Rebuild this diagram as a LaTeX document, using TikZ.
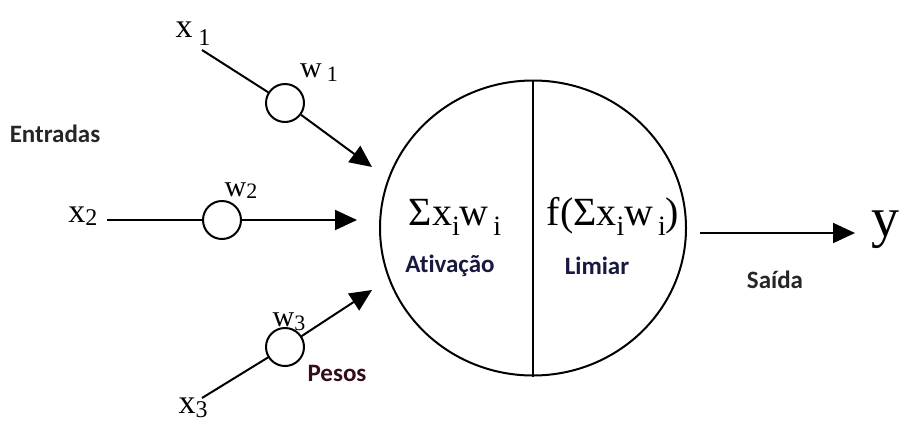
\documentclass[tikz,border=0pt]{standalone}
\usepackage{fontspec}
\setmainfont{Liberation Serif}
\newfontfamily\labelfont[Ligatures=NoCommon]{Carlito}
\usetikzlibrary{arrows.meta,shapes.geometric}
\newcommand{\lowsub}[4][3pt]{#3\raisebox{-#1}{\fontsize{#2}{#2}\selectfont #4}}

\begin{document}
\begin{tikzpicture}[x=0.5pt, y=-0.5pt,
    weight/.style={draw, circle, line width=1pt, minimum size=19pt, inner sep=0pt, fill=white},
    wire/.style={line width=1pt},
    feed/.style={line width=1pt, -{Triangle[length=11pt, width=10pt]}},
    caption/.style={font=\labelfont\bfseries\fontsize{12.5}{14}\selectfont},
    symb/.style={font=\fontsize{17}{19}\selectfont, inner sep=0pt, anchor=base},
    wlabel/.style={font=\fontsize{15}{17}\selectfont, inner sep=0pt, anchor=base},
    formula/.style={font=\fontsize{20}{22}\selectfont, inner sep=0pt, anchor=base}]
    \useasboundingbox (0,0) rectangle (900,424);

    % Define the points of the connectors
    \coordinate (S1) at (202,50);
    \coordinate (S2) at (107,220);
    \coordinate (S3) at (202,398);
    \coordinate (T1) at (372,167);
    \coordinate (T2) at (357,220);
    \coordinate (T3) at (372,290);
    \coordinate (O1) at (700,233);
    \coordinate (O2) at (855,233);

    % Draw the neuron
    \node[draw, ellipse, line width=1pt, minimum width=153pt, minimum height=147.5pt] (neuron) at (533,228) {};
    \draw[wire] (neuron.north) -- (neuron.south);

    % Draw the weights
    \node[weight] (W1) at (285,103) {};
    \node[weight] (W2) at (222,220) {};
    \node[weight] (W3) at (285,347) {};

    % Draw the inputs
    \draw[wire] (S1) -- (W1);
    \draw[feed] (W1) -- (T1);
    \draw[wire] (S2) -- (W2);
    \draw[feed] (W2) -- (T2);
    \draw[wire] (S3) -- (W3);
    \draw[feed] (W3) -- (T3);

    % Draw the output
    \draw[feed] (O1) -- (O2);

    % Place the symbols
    \node[symb] (X1) at (193,37) {\lowsub[4pt]{12}{x\,}{1}};
    \node[symb] (X2) at (83,222) {\lowsub[1.5pt]{12}{x}{2}};
    \node[symb] (X3) at (193,413) {\lowsub[2pt]{12}{x}{3}};
    \node[wlabel] (L1) at (319,77) {\lowsub[2pt]{11}{w\,}{1}};
    \node[wlabel] (L2) at (241,196) {\lowsub[1pt]{11}{w}{2}};
    \node[wlabel] (L3) at (289,326) {\lowsub[2pt]{11}{w}{3}};
    \node[formula] (sum) at (455,225) {Σ\lowsub[5pt]{14}{x}{i}\lowsub[5pt]{14}{w}{\,i}};
    \node[formula] (act) at (613,225) {f(Σ\lowsub[5pt]{14}{x}{i}\lowsub[5pt]{14}{w}{\,i})};
    \node[font=\fontsize{28}{30}\selectfont, inner sep=0pt] (Y) at (885,230) {y};

    % Place the captions
    \node[caption, text=black!85] (inputs) at (55,134) {Entradas};
    \node[caption, text={rgb,1:red,0.2;green,0.05;blue,0.1}] (weights) at (337,373) {Pesos};
    \node[caption, text={rgb,1:red,0.1;green,0.1;blue,0.25}] (activation) at (450,266) {Ativação};
    \node[caption, text={rgb,1:red,0.1;green,0.1;blue,0.25}] (threshold) at (597,266) {Limiar};
    \node[caption, text=black!85] (output) at (775,280) {Saída};
\end{tikzpicture}
\end{document}
